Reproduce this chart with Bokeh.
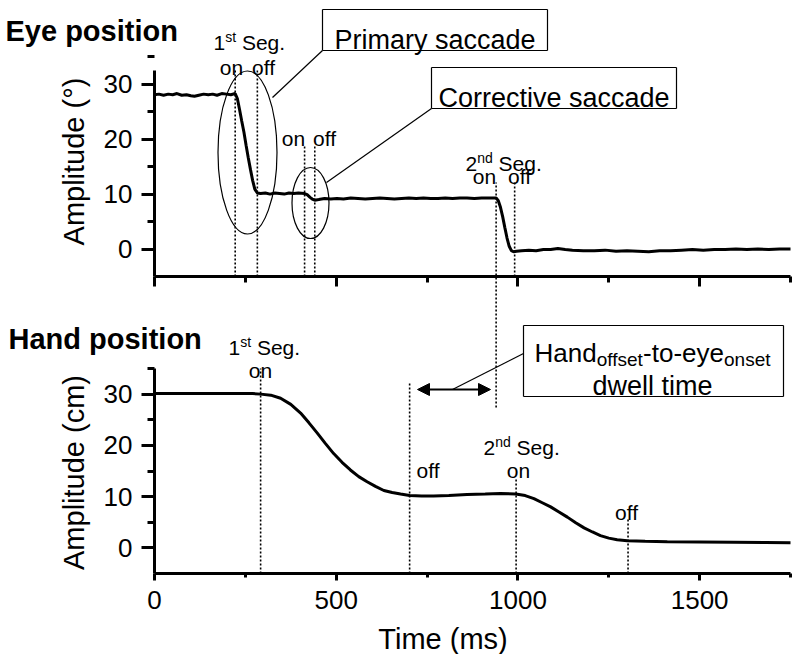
import math
from bokeh.plotting import figure
from bokeh.models import (Range1d, FixedTicker, Label, Arrow, NormalHead, LinearAxis,
                          CustomJSTickFormatter)
from bokeh.embed import file_html
from bokeh.resources import INLINE

# ---------------- data ----------------
eye_time = [0, 12, 25, 38, 50, 62, 75, 88, 100, 110, 122, 135, 148, 160, 172, 185, 198, 210,
            222, 228, 234, 240, 246, 252, 258, 264, 270, 276, 283, 292, 305, 318, 331, 344,
            357, 370, 383, 396, 413, 420, 428, 434, 441, 452, 468, 485, 502, 520, 540, 560,
            580, 600, 620, 640, 660, 680, 700, 720, 740, 760, 780, 800, 820, 840, 860, 880,
            900, 920, 940, 946, 952, 958, 964, 970, 976, 982, 988, 996, 1010, 1030, 1050,
            1070, 1090, 1110, 1130, 1150, 1180, 1210, 1240, 1270, 1300, 1330, 1360, 1390,
            1420, 1450, 1480, 1510, 1540, 1570, 1600, 1630, 1660, 1690, 1720, 1750]
eye_amp = [28.1, 28.2, 28.0, 28.2, 28.1, 28.3, 28.0, 28.1, 27.9, 27.8, 28.0, 28.2, 28.1, 28.2,
           28.0, 28.3, 28.2, 28.1, 28.3, 27.4, 25.4, 23.3, 21.3, 18.9, 16.6, 14.5, 12.5, 10.9,
           10.2, 10.1, 10.2, 10.0, 10.2, 10.1, 10.0, 10.2, 10.1, 10.2, 10.1, 9.9, 9.4, 9.1,
           8.9, 9.0, 9.2, 9.1, 9.2, 9.1, 9.3, 9.2, 9.1, 9.2, 9.3, 9.2, 9.1, 9.2, 9.3, 9.2,
           9.3, 9.2, 9.2, 9.3, 9.2, 9.3, 9.3, 9.2, 9.3, 9.3, 9.3, 8.8, 7.6, 5.9, 3.9, 2.0,
           0.5, -0.3, -0.5, -0.4, -0.3, -0.2, -0.3, -0.1, -0.1, 0.1, -0.1, -0.2, -0.3, -0.3,
           -0.2, -0.4, -0.3, -0.4, -0.5, -0.3, -0.3, -0.2, -0.1, -0.2, -0.1, -0.1, 0.0, -0.1,
           0.0, -0.1, 0.0, 0.0]

hand_time = [0, 100, 200, 270, 292, 320, 347, 375, 402, 425, 448, 470, 493, 516, 539, 562,
             585, 608, 631, 654, 677, 702, 735, 768, 810, 860, 910, 952, 994, 1020, 1044,
             1067, 1090, 1113, 1136, 1159, 1182, 1205, 1227, 1250, 1273, 1301, 1350, 1411,
             1500, 1594, 1680, 1750]
hand_amp = [30.1, 30.1, 30.1, 30.1, 30.0, 29.8, 29.2, 28.0, 26.3, 24.4, 22.4, 20.4, 18.4,
            16.7, 15.2, 13.9, 12.9, 12.0, 11.2, 10.8, 10.5, 10.2, 10.1, 10.1, 10.2, 10.4,
            10.5, 10.6, 10.5, 10.2, 9.6, 8.8, 8.0, 7.0, 6.0, 4.9, 3.9, 3.1, 2.4, 1.9, 1.6,
            1.4, 1.3, 1.2, 1.15, 1.1, 1.05, 1.0]

# event markers (ms)
eye_events = [222, 283, 413, 441, 940, 991]
hand_events = [292, 702, 995, 1303]

x_ticks = [0, 500, 1000, 1500]
x_minor = [250, 750, 1250, 1750]
eye_y_ticks = [0, 10, 20, 30]
hand_y_ticks = [0, 10, 20, 30]
y_minor = [5, 15, 25, 35]

X_LIM = (0, 1750)
EYE_LIM = (-5, 32.5)
HAND_LIM = (-5, 35)

# ---------------- geometry (canvas pixels) ----------------
FONT = "Liberation Sans"
W, H = 796, 654          # canvas size
FL, FR = 154, 790        # x = 0 .. 1750
T_FT, T_FB = 70, 276     # eye panel: 32.5 .. -5
B_FT, B_FB = 368, 573    # hand panel: 35 .. -5


def px2ms(px):
    return X_LIM[0] + (px - FL) / (FR - FL) * (X_LIM[1] - X_LIM[0])


def w2ms(w):
    return w / (FR - FL) * (X_LIM[1] - X_LIM[0])


def ty(py):
    return EYE_LIM[1] - (py - T_FT) / (T_FB - T_FT) * (EYE_LIM[1] - EYE_LIM[0])


def th(h):
    return h / (T_FB - T_FT) * (EYE_LIM[1] - EYE_LIM[0])


def by(py):
    return HAND_LIM[1] - (py - B_FT) / (B_FB - B_FT) * (HAND_LIM[1] - HAND_LIM[0])


AW = {'1': .556, '2': .556, 's': .5, 't': .278, 'n': .556, 'd': .556, 'o': .556, 'f': .278,
      'e': .556, ' ': .278, 'S': .667, 'g': .556, '.': .278, 'H': .722, 'a': .556, '-': .333,
      'y': .5}


def tw(s, size):
    return sum(AW.get(c, .55) for c in s) * size


p = figure(width=W, height=H,
           x_range=Range1d(px2ms(0), px2ms(W)),
           y_range=Range1d(by(H), by(0)),
           x_axis_type=None, y_axis_type=None,
           min_border=0, min_border_left=0, min_border_right=0,
           min_border_top=0, min_border_bottom=0,
           output_backend="svg", toolbar_location=None)
p.extra_y_ranges = {"eye": Range1d(ty(H), ty(0))}
p.outline_line_color = None
p.background_fill_color = "white"
p.border_fill_color = "white"


def style(ax, horizontal):
    ax.axis_line_width = 3
    ax.major_tick_line_width = 3
    ax.minor_tick_line_width = 3
    ax.major_tick_in = 0
    ax.minor_tick_in = 0
    ax.major_label_text_font = FONT
    ax.major_label_text_color = "black"
    ax.major_label_text_font_size = "26px"
    if horizontal:
        ax.major_tick_out = 7
        ax.minor_tick_out = 4
        ax.major_label_standoff = 10
    else:
        ax.major_tick_out = 13
        ax.minor_tick_out = 7
        ax.major_label_standoff = 9


# eye panel axes
eye_y = LinearAxis(y_range_name="eye", fixed_location=0, bounds=EYE_LIM,
                   ticker=FixedTicker(ticks=eye_y_ticks, minor_ticks=y_minor))
style(eye_y, False)
p.add_layout(eye_y, "left")
eye_x = LinearAxis(y_range_name="eye", fixed_location=EYE_LIM[0], bounds=X_LIM,
                   ticker=FixedTicker(ticks=x_ticks, minor_ticks=x_minor),
                   formatter=CustomJSTickFormatter(code="return ''"))
style(eye_x, True)
eye_x.major_tick_out = 10
eye_x.minor_tick_out = 6
p.add_layout(eye_x, "below")

# hand panel axes
hand_y = LinearAxis(fixed_location=0, bounds=HAND_LIM,
                    ticker=FixedTicker(ticks=hand_y_ticks, minor_ticks=y_minor))
style(hand_y, False)
p.add_layout(hand_y, "left")
hand_x = LinearAxis(fixed_location=HAND_LIM[0], bounds=X_LIM,
                    ticker=FixedTicker(ticks=x_ticks, minor_ticks=x_minor))
style(hand_x, True)
p.add_layout(hand_x, "below")


def lab(rng, ymap, text, px, py, size, align="left", bold=False, baseline="alphabetic",
        angle=0.0):
    kw = {"y_range_name": rng} if rng else {}
    p.add_layout(Label(x=px2ms(px), y=ymap(py), text=text, text_font=FONT,
                       text_font_size=f"{size}px", text_align=align,
                       text_baseline=baseline, text_color="black", angle=angle,
                       text_font_style="bold" if bold else "normal", **kw))


def runs(rng, ymap, px, py, parts):
    x = px
    for text, size, dy in parts:
        if text.strip():
            lab(rng, ymap, text, x, py + dy, size)
        x += tw(text, size)


def seg(rng, ymap, x0, y0, x1, y1, dash="solid", width=1.2):
    kw = {"y_range_name": rng} if rng else {}
    p.add_layout(Arrow(start=None, end=None, x_start=px2ms(x0), y_start=ymap(y0),
                       x_end=px2ms(x1), y_end=ymap(y1), line_color="black",
                       line_width=width, line_dash=dash, **kw))


def box(rng, ymap, l, t, r, b):
    seg(rng, ymap, l, t, r, t)
    seg(rng, ymap, r, t, r, b)
    seg(rng, ymap, r, b, l, b)
    seg(rng, ymap, l, b, l, t)


SM = 21   # small annotation font
SUP = 14  # superscript font
TITLE = 29

# ---------------- eye panel ----------------
eye_tops = [ty(68), ty(68), ty(146), ty(146), ty(182), ty(182)]
eye_bottoms = [EYE_LIM[0]] * 4 + [ty(407), EYE_LIM[0]]   # 2nd onset line reaches into hand panel
p.segment(x0=eye_events, y0=eye_bottoms, x1=eye_events, y1=eye_tops, y_range_name="eye",
          line_color="black", line_width=1.6, line_dash="2 2")
p.line(eye_time, eye_amp, y_range_name="eye", line_color="black", line_width=3)
p.ellipse(x=[px2ms(247), px2ms(310)], y=[ty(152), ty(202.5)],
          width=[w2ms(59), w2ms(37)], height=[th(163), th(71)], y_range_name="eye",
          fill_color=None, line_color="black", line_width=1.2)

lab("eye", ty, "Eye position", 5, 30, TITLE, bold=True)
lab("eye", ty, "Amplitude (°)", 73, 161, 29, align="center", baseline="middle",
    angle=math.pi / 2)
runs("eye", ty, 213, 42, [("1", SM, 0), ("st", SUP, -6), (" ", SM, 0), ("Seg.", SM, 0)])
lab("eye", ty, "on", 231, 67, SM, align="center")
lab("eye", ty, "off", 263, 67, SM, align="center")
lab("eye", ty, "on", 293, 138, SM, align="center")
lab("eye", ty, "off", 324, 138, SM, align="center")
runs("eye", ty, 465, 163, [("2", SM, 0), ("nd", SUP, -6), (" ", SM, 0), ("Seg.", SM, 0)])
lab("eye", ty, "on", 484, 176, SM, align="center")
lab("eye", ty, "off", 519, 176, SM, align="center")

box("eye", ty, 322, 9, 547, 50)
lab("eye", ty, "Primary saccade", 434.5, 39, 27, align="center")
seg("eye", ty, 322, 50, 272, 97)
box("eye", ty, 431, 67, 676, 108)
lab("eye", ty, "Corrective saccade", 553.5, 97, 27, align="center")
seg("eye", ty, 431, 108, 326, 182)

# ---------------- hand panel ----------------
hand_tops = [HAND_LIM[1], by(383), by(477), by(518)]
p.segment(x0=hand_events, y0=[HAND_LIM[0]] * len(hand_events), x1=hand_events, y1=hand_tops,
          line_color="black", line_width=1.6, line_dash="2 2")
p.line(hand_time, hand_amp, line_color="black", line_width=3)

p.add_layout(Arrow(start=NormalHead(size=12, fill_color="black", line_color="black"),
                   end=NormalHead(size=12, fill_color="black", line_color="black"),
                   x_start=px2ms(417), y_start=by(389), x_end=px2ms(490), y_end=by(389),
                   line_color="black", line_width=2))

lab(None, by, "Hand position", 8, 338, TITLE, bold=True)
lab(None, by, "Amplitude (cm)", 73, 472, 29, align="center", baseline="middle",
    angle=math.pi / 2)
runs(None, by, 228, 347, [("1", SM, 0), ("st", SUP, -6), (" ", SM, 0), ("Seg.", SM, 0)])
lab(None, by, "on", 260, 370, SM, align="center")
lab(None, by, "off", 416, 470, SM)
runs(None, by, 483, 447, [("2", SM, 0), ("nd", SUP, -6), (" ", SM, 0), ("Seg.", SM, 0)])
lab(None, by, "on", 518, 470, SM, align="center")
lab(None, by, "off", 626, 512, SM, align="center")

box(None, by, 523, 325, 783, 396)
hand_parts = [("Hand", 26, 0), ("offset", 19, 7), ("-to-eye", 26, 0), ("onset", 19, 7)]
total = sum(tw(t, s) for t, s, _ in hand_parts)
runs(None, by, 652 - total / 2, 352, hand_parts)
lab(None, by, "dwell time", 652, 385, 27, align="center")
seg(None, by, 523, 353, 452, 389)

lab(None, by, "Time (ms)", 442.5, 638, 29, align="center")

open("out.html", "w").write(file_html(p, INLINE))
